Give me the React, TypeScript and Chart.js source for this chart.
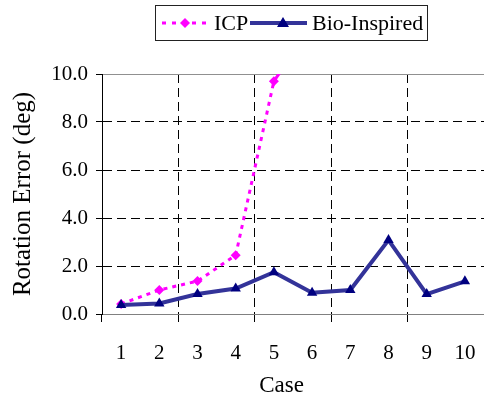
import React, { useEffect, useRef } from "react";
import { Chart, registerables } from "chart.js";

Chart.register(...registerables);

const categories = ["1", "2", "3", "4", "5", "6", "7", "8", "9", "10"];
const icpValues: (number | null)[] = [0.42, 1.0, 1.37, 2.45, 9.7, 12.0, null, null, null, null];
const bioValues: number[] = [0.38, 0.44, 0.83, 1.06, 1.74, 0.89, 1.0, 3.08, 0.83, 1.36];
const yTicks = [0, 2, 4, 6, 8, 10];
const seriesNames = ["ICP", "Bio-Inspired"];

const FONT = "'Liberation Serif', 'Times New Roman', serif";
const ICP_COLOR = "#FF00FF";
const BIO_LINE = "#333399";
const BIO_MARK = "#000080";

const legendPlugin = {
  id: "boxLegend",
  afterDraw(chart: any) {
    const ctx = chart.ctx as CanvasRenderingContext2D;
    ctx.save();
    ctx.strokeStyle = "#222";
    ctx.lineWidth = 1;
    ctx.setLineDash([]);
    ctx.strokeRect(155.5, 5.5, 272, 35);
    const cy = 23;
    ctx.strokeStyle = ICP_COLOR;
    ctx.lineWidth = 3;
    ctx.setLineDash([4, 6]);
    ctx.beginPath();
    ctx.moveTo(162, cy);
    ctx.lineTo(208, cy);
    ctx.stroke();
    ctx.setLineDash([]);
    ctx.fillStyle = ICP_COLOR;
    ctx.beginPath();
    ctx.moveTo(185, cy - 5);
    ctx.lineTo(190, cy);
    ctx.lineTo(185, cy + 5);
    ctx.lineTo(180, cy);
    ctx.closePath();
    ctx.fill();
    ctx.strokeStyle = BIO_LINE;
    ctx.lineWidth = 4;
    ctx.beginPath();
    ctx.moveTo(250, cy);
    ctx.lineTo(307, cy);
    ctx.stroke();
    ctx.fillStyle = BIO_MARK;
    ctx.beginPath();
    ctx.moveTo(283, cy - 6);
    ctx.lineTo(289, cy + 4);
    ctx.lineTo(277, cy + 4);
    ctx.closePath();
    ctx.fill();
    ctx.fillStyle = "#000";
    ctx.font = `22px ${FONT}`;
    ctx.textBaseline = "middle";
    ctx.textAlign = "left";
    ctx.fillText(seriesNames[0], 214, cy + 1);
    ctx.fillText(seriesNames[1], 312, cy + 1);
    ctx.restore();
  },
};

export default function App() {
  const ref = useRef<HTMLCanvasElement | null>(null);
  useEffect(() => {
    if (!ref.current) return;
    const chart = new Chart(ref.current, {
      type: "line",
      data: {
        labels: categories,
        datasets: [
          {
            label: seriesNames[1],
            data: bioValues,
            borderColor: BIO_LINE,
            backgroundColor: BIO_MARK,
            borderWidth: 4,
            pointStyle: "triangle",
            pointRadius: 6,
            pointBorderWidth: 0,
            pointBackgroundColor: BIO_MARK,
            tension: 0,
            order: 0,
          },
          {
            label: seriesNames[0],
            data: icpValues,
            borderColor: ICP_COLOR,
            backgroundColor: ICP_COLOR,
            borderWidth: 3,
            borderDash: [4, 5],
            segment: {
              borderDash: (c: any) => (c.p0DataIndex === 4 ? [12, 5] : undefined),
            },
            pointStyle: "rectRot",
            pointRadius: 5,
            pointBorderWidth: 0,
            pointBackgroundColor: ICP_COLOR,
            tension: 0,
            spanGaps: false,
            clip: 0,
            order: 1,
          },
        ],
      },
      options: {
        animation: false,
        responsive: false,
        devicePixelRatio: 1,
        layout: { padding: { top: 74, left: 0, right: 4, bottom: 0 } },
        plugins: {
          legend: { display: false },
          tooltip: { enabled: false },
        },
        scales: {
          x: {
            type: "category",
            offset: true,
            afterFit: (s: any) => {
              s.height = 88;
            },
            grid: {
              offset: true,
              drawOnChartArea: true,
              color: (c: any) => (c.index % 2 === 0 && c.index !== 0 ? "#000" : "rgba(0,0,0,0)"),
              tickColor: (c: any) => (c.index % 2 === 0 ? "#000" : "rgba(0,0,0,0)"),
              tickLength: 8,
              lineWidth: 1,
            },
            border: { display: true, color: "#808080", width: 1, dash: [9, 5] },
            ticks: {
              color: "#000",
              font: { family: FONT, size: 21, lineHeight: 1.68 },
              padding: 14,
              maxRotation: 0,
              autoSkip: false,
            },
            title: {
              display: true,
              text: "Case\u00A0\u00A0\u00A0\u00A0",
              color: "#000",
              font: { family: FONT, size: 23 },
              padding: { top: 0, bottom: 2 },
            },
          },
          y: {
            min: 0,
            max: 10,
            afterFit: (s: any) => {
              s.width = 102;
            },
            afterBuildTicks: (s: any) => {
              s.ticks = yTicks.map((v) => ({ value: v }));
            },
            grid: {
              color: (c: any) =>
                c.tick && c.tick.value === 10 ? "#909090" : c.tick && c.tick.value === 0 ? "rgba(0,0,0,0)" : "#000",
              tickColor: "#000",
              tickLength: 6,
              lineWidth: 1,
            },
            border: {
              display: true,
              color: "#000",
              width: 1,
              dash: (c: any) => (c.tick && (c.tick.value === 10 || c.tick.value === 0) ? [] : [9, 5]),
            },
            ticks: {
              color: "#000",
              font: { family: FONT, size: 21 },
              padding: 8,
              callback: (v: any) => Number(v).toFixed(1),
            },
            title: {
              display: true,
              text: "Rotation Error (deg)",
              color: "#000",
              font: { family: FONT, size: 25 },
              padding: { top: 8, bottom: 0 },
            },
          },
        },
      },
      plugins: [legendPlugin],
    });
    return () => chart.destroy();
  }, []);
  return (
    <div style={{ position: "absolute", left: 0, top: 0, width: 484, height: 402, overflow: "hidden", background: "#fff" }}>
      <canvas ref={ref} width={490} height={402} />
    </div>
  );
}
